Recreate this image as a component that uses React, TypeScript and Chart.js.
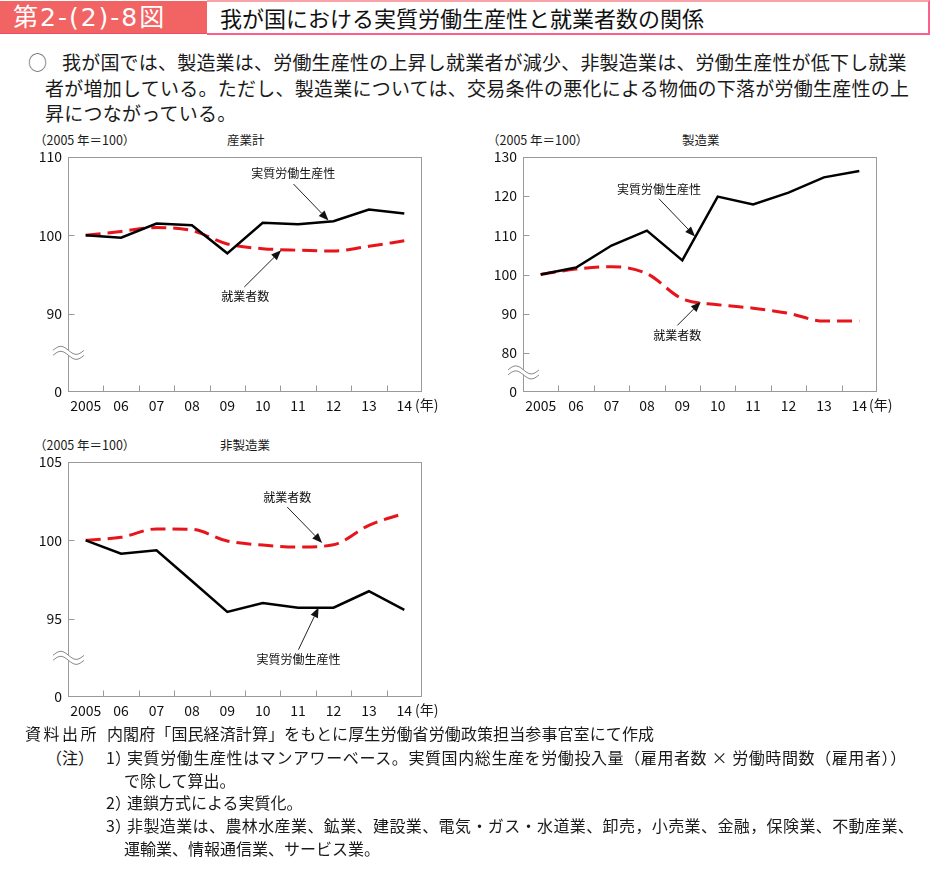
import React, { useEffect, useRef } from 'react';
import { Chart, registerables } from 'chart.js';

Chart.register(...registerables);

// ---------- data ----------
const years = ['2005', '06', '07', '08', '09', '10', '11', '12', '13', '14'];

const totalProductivity = [100, 99.7, 101.5, 101.3, 97.7, 101.6, 101.4, 101.8, 103.3, 102.8];
const totalEmployment = [100, 100.5, 101.0, 100.6, 98.9, 98.3, 98.1, 98.0, 98.6, 99.3];

const mfgProductivity = [100, 101.8, 107.4, 111.2, 103.6, 119.9, 117.9, 120.9, 124.8, 126.4];
const mfgEmployment = [100, 101.4, 102.0, 100.2, 93.8, 92.3, 91.4, 90.1, 88.1, 88.1];

const nonMfgProductivity = [100, 99.15, 99.36, 97.4, 95.43, 96.0, 95.7, 95.7, 96.75, 95.56];
const nonMfgEmployment = [100, 100.2, 100.73, 100.7, 99.96, 99.7, 99.57, 99.72, 100.96, 101.73];

const productivityLabel = '実質労働生産性';
const employmentLabel = '就業者数';

const FONT = '"Noto Sans CJK JP", "Noto Sans", sans-serif';

type Annot = { label: string; at: [number, number]; from: [number, number]; to: [number, number] };

const framePlugin = {
  id: 'frame',
  beforeDatasetsDraw(chart: any) {
    const { ctx, chartArea: a, scales } = chart;
    ctx.save();
    ctx.strokeStyle = '#9a9a9a';
    ctx.lineWidth = 1;
    const L = Math.round(a.left) + 0.5, T = Math.round(a.top) + 0.5;
    const R = Math.round(a.right) - 0.5, B = Math.round(a.bottom) - 0.5;
    ctx.strokeRect(L, T, R - L, B - T);
    const xs = scales.x;
    ctx.beginPath();
    for (let i = 1; i < xs.ticks.length; i++) {
      const px = Math.round(xs.getPixelForValue(i - 0.5)) + 0.5;
      ctx.moveTo(px, B);
      ctx.lineTo(px, B - 6);
    }
    const ys = scales.y;
    ys.ticks.forEach((t: any) => {
      const py = Math.round(ys.getPixelForValue(t.value)) + 0.5;
      if (py > T + 2 && py < B - 2) {
        ctx.moveTo(L, py);
        ctx.lineTo(L + 6, py);
      }
    });
    ctx.stroke();
    ctx.restore();
  },
  afterDatasetsDraw(chart: any, _args: any, opts: any) {
    const { ctx, scales } = chart;
    const xs = scales.x, ys = scales.y;
    const P = (p: [number, number]) => [xs.getPixelForValue(p[0]), ys.getPixelForValue(p[1])];
    ctx.save();
    (opts.annotations || []).forEach((an: Annot) => {
      const [fx, fy] = P(an.from);
      const [tx, ty] = P(an.to);
      const ang = Math.atan2(ty - fy, tx - fx);
      const hl = 10, hw = 4;
      const bx = tx - hl * Math.cos(ang), by = ty - hl * Math.sin(ang);
      ctx.strokeStyle = '#222';
      ctx.lineWidth = 1;
      ctx.beginPath();
      ctx.moveTo(fx, fy);
      ctx.lineTo(bx, by);
      ctx.stroke();
      ctx.fillStyle = '#111';
      ctx.beginPath();
      ctx.moveTo(tx, ty);
      ctx.lineTo(bx + hw * Math.sin(ang), by - hw * Math.cos(ang));
      ctx.lineTo(bx - hw * Math.sin(ang), by + hw * Math.cos(ang));
      ctx.closePath();
      ctx.fill();
      const [lx, ly] = P(an.at);
      ctx.font = `12px ${FONT}`;
      ctx.textAlign = 'center';
      ctx.textBaseline = 'middle';
      ctx.fillStyle = '#111';
      ctx.fillText(an.label, lx, ly);
    });
    ctx.restore();
  },
  afterDraw(chart: any, _args: any, opts: any) {
    const { ctx, chartArea: a, scales } = chart;
    const py = scales.y.getPixelForValue(opts.breakValue);
    const x0 = a.left - 15, x1 = a.left + 16;
    const amp = 4, gap = 5;
    const pts = (dy: number) => {
      const arr: [number, number][] = [];
      for (let x = x0; x <= x1; x += 1) {
        const t = (x - x0) / (x1 - x0);
        arr.push([x, py + dy - amp * Math.sin(t * 2 * Math.PI)]);
      }
      return arr;
    };
    const up = pts(-gap / 2), lo = pts(gap / 2);
    ctx.save();
    ctx.fillStyle = '#fff';
    ctx.beginPath();
    up.forEach(([x, y], i) => (i ? ctx.lineTo(x, y) : ctx.moveTo(x, y)));
    for (let i = lo.length - 1; i >= 0; i--) ctx.lineTo(lo[i][0], lo[i][1]);
    ctx.closePath();
    ctx.fill();
    ctx.strokeStyle = '#8a8a8a';
    ctx.lineWidth = 1;
    [up, lo].forEach((arr) => {
      ctx.beginPath();
      arr.forEach(([x, y], i) => (i ? ctx.lineTo(x, y) : ctx.moveTo(x, y)));
      ctx.stroke();
    });
    ctx.restore();
  },
};

type PanelProps = {
  left: number; top: number; width: number; height: number;
  yWidth: number; padRight: number;
  productivity: number[]; employment: number[];
  yMin: number; yMax: number; step: number; breakValue: number;
  annotations: Annot[];
};

function Panel(p: PanelProps) {
  const ref = useRef<HTMLCanvasElement>(null);
  useEffect(() => {
    if (!ref.current) return;
    const chart = new Chart(ref.current, {
      type: 'line',
      data: {
        labels: years,
        datasets: [
          {
            label: productivityLabel,
            data: p.productivity,
            borderColor: '#000',
            borderWidth: 2.5,
            pointRadius: 0,
            tension: 0,
            borderJoinStyle: 'miter',
          },
          {
            label: employmentLabel,
            data: p.employment,
            borderColor: '#e8141b',
            borderWidth: 3,
            borderDash: [15, 7],
            pointRadius: 0,
            cubicInterpolationMode: 'monotone',
          },
        ],
      },
      options: {
        animation: false,
        responsive: false,
        maintainAspectRatio: false,
        layout: { padding: { top: 7, right: p.padRight, left: 0, bottom: 0 } },
        plugins: {
          legend: { display: false },
          tooltip: { enabled: false },
          frame: { breakValue: p.breakValue, annotations: p.annotations },
        } as any,
        scales: {
          x: {
            type: 'category',
            offset: true,
            grid: { display: false, drawTicks: false },
            border: { display: false },
            ticks: { color: '#111', font: { size: 14, family: FONT }, padding: 5, maxRotation: 0, autoSkip: false },
            afterFit: (s: any) => { s.height = 28; s.paddingLeft = 0; s.paddingRight = 0; },
          },
          y: {
            min: p.yMin,
            max: p.yMax,
            grid: { display: false, drawTicks: false },
            border: { display: false },
            ticks: {
              stepSize: p.step,
              color: '#111',
              font: { size: 14, family: FONT },
              padding: 6,
              callback: (v: any) => (v === p.yMin ? '0' : String(v)),
            },
            afterFit: (s: any) => { s.width = p.yWidth; s.paddingTop = 0; s.paddingBottom = 0; },
          },
        },
      },
      plugins: [framePlugin],
    } as any);
    return () => chart.destroy();
  }, []);
  return (
    <canvas
      ref={ref}
      width={p.width}
      height={p.height}
      style={{ position: 'absolute', left: p.left, top: p.top, width: p.width, height: p.height }}
    />
  );
}

const abs = (left: number, cy: number, size: number, extra: any = {}) => ({
  position: 'absolute' as const,
  left,
  top: cy - size * 0.7,
  fontSize: size,
  lineHeight: `${size * 1.4}px`,
  whiteSpace: 'nowrap' as const,
  ...extra,
});

export default function App() {
  return (
    <div style={{ position: 'absolute', left: 0, top: 0, width: 932, height: 872, background: '#fff', fontFamily: FONT, color: '#1a1a1a', overflow: 'hidden' }}>
      {/* title bar */}
      <div style={{ position: 'absolute', left: 0, top: 1, width: 207, height: 33, background: '#f26464', borderBottom: '1px solid #f04a6a', boxSizing: 'border-box' }} />
      <div style={abs(13, 17, 25, { color: '#fff', letterSpacing: 2, fontFamily: `"DejaVu Sans", ${FONT}` })}>第2-(2)-8図</div>
      <div style={{ position: 'absolute', left: 207, top: 0, width: 723, height: 35, borderTop: '2px solid #f9a2a8', borderBottom: '2px solid #ff5f8f', borderRight: '2px solid #ff5f8f', boxSizing: 'border-box' }} />
      <div style={abs(220, 17, 22, { color: '#111' })}>我が国における実質労働生産性と就業者数の関係</div>

      {/* lead text */}
      <div style={abs(28, 62, 19, { color: '#666' })}>○</div>
      <div style={abs(62, 62, 19, { letterSpacing: 0.2 })}>我が国では、製造業は、労働生産性の上昇し就業者が減少、非製造業は、労働生産性が低下し就業</div>
      <div style={abs(45, 88, 19, { letterSpacing: 0.25 })}>者が増加している。ただし、製造業については、交易条件の悪化による物価の下落が労働生産性の上</div>
      <div style={abs(45, 113, 19, { letterSpacing: 0.25 })}>昇につながっている。</div>

      {/* chart headings */}
      <div style={abs(34, 140, 12.5)}>（2005 年＝100）</div>
      <div style={abs(227, 140, 12.5)}>産業計</div>
      <div style={abs(487, 140, 12.5)}>（2005 年＝100）</div>
      <div style={abs(682, 140, 12.5)}>製造業</div>
      <div style={abs(34, 445, 12.5)}>（2005 年＝100）</div>
      <div style={abs(220, 445, 12.5)}>非製造業</div>

      <Panel
        left={20} top={150} width={425} height={270} yWidth={48} padRight={23}
        productivity={totalProductivity} employment={totalEmployment}
        yMin={80} yMax={110} step={10} breakValue={85}
        annotations={[
          { label: productivityLabel, at: [5.86, 107.87], from: [5.87, 106.55], to: [6.86, 101.9] },
          { label: employmentLabel, at: [4.51, 92.17], from: [4.48, 93.4], to: [5.52, 98.08] },
        ]}
      />
      <div style={abs(415, 405, 14)}>(年)</div>

      <Panel
        left={470} top={150} width={440} height={270} yWidth={53} padRight={33}
        productivity={mfgProductivity} employment={mfgEmployment}
        yMin={70} yMax={130} step={10} breakValue={75}
        annotations={[
          { label: productivityLabel, at: [3.34, 121.83], from: [3.34, 119.35], to: [4.36, 109.73] },
          { label: employmentLabel, at: [3.86, 84.45], from: [3.86, 87.0], to: [4.52, 92.98] },
        ]}
      />
      <div style={abs(869, 405, 14)}>(年)</div>

      <Panel
        left={20} top={455} width={425} height={270} yWidth={48} padRight={23}
        productivity={nonMfgProductivity} employment={nonMfgEmployment}
        yMin={90} yMax={105} step={5} breakValue={92.5}
        annotations={[
          { label: employmentLabel, at: [5.69, 102.74], from: [5.69, 102.13], to: [6.68, 99.83] },
          { label: productivityLabel, at: [6.01, 92.38], from: [6.01, 93.02], to: [6.58, 95.72] },
        ]}
      />
      <div style={abs(415, 710, 14)}>(年)</div>

      {/* notes */}
      <div style={abs(25, 733, 16, { letterSpacing: 2.5 })}>資料出所</div>
      <div style={abs(107, 733, 16, { letterSpacing: 0.1 })}>内閣府「国民経済計算」をもとに厚生労働省労働政策担当参事官室にて作成</div>
      <div style={abs(46, 757, 16)}>（注）</div>
      <div style={abs(106, 757, 16)}>1）</div>
      <div style={abs(127, 757, 16, { letterSpacing: 0.6 })}>実質労働生産性はマンアワーベース。実質国内総生産を労働投入量（雇用者数 × 労働時間数（雇用者））</div>
      <div style={abs(124, 780, 16)}>で除して算出。</div>
      <div style={abs(106, 802, 16)}>2）</div>
      <div style={abs(127, 802, 16)}>連鎖方式による実質化。</div>
      <div style={abs(106, 825, 16)}>3）</div>
      <div style={abs(127, 825, 16, { letterSpacing: 0.4 })}>非製造業は、農林水産業、鉱業、建設業、電気・ガス・水道業、卸売，小売業、金融，保険業、不動産業、</div>
      <div style={abs(124, 848, 16)}>運輸業、情報通信業、サービス業。</div>
    </div>
  );
}
